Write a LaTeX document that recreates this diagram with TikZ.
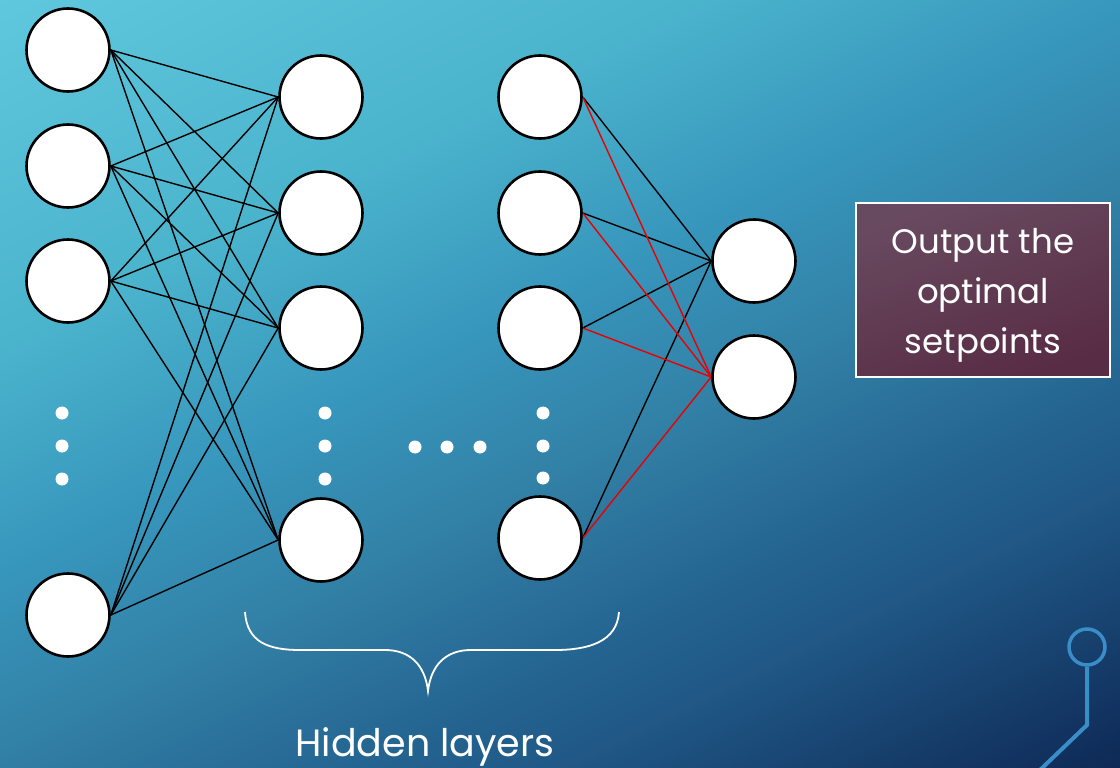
\documentclass[tikz,border=0pt]{standalone}
\usepackage{fontspec}
\setmainfont{Poppins}
\definecolor{bgA}{RGB}{95,200,222}
\definecolor{bgB}{RGB}{75,180,205}
\definecolor{bgC}{RGB}{55,150,188}
\definecolor{bgD}{RGB}{50,128,166}
\definecolor{bgE}{RGB}{36,100,145}
\definecolor{bgF}{RGB}{32,88,134}
\definecolor{bgG}{RGB}{14,40,85}
\definecolor{boxTop}{RGB}{104,74,96}
\definecolor{boxBot}{RGB}{88,44,68}
\definecolor{ornament}{RGB}{58,142,200}
\definecolor{linkRed}{RGB}{235,0,0}
% diagonal slide gradient, laid out along its own x axis
\pgfdeclarehorizontalshading{slidegrad}{1400bp}{%
  color(0bp)=(bgA); color(309bp)=(bgB); color(514bp)=(bgC); color(675bp)=(bgD);
  color(845bp)=(bgE); color(935bp)=(bgF); color(1188bp)=(bgG)}
\pgfdeclarelayer{slide}
\pgfdeclarelayer{wires}
\pgfsetlayers{slide,wires,main}
\begin{document}
\begin{tikzpicture}[x=1pt,y=-1pt,
  neuron/.style={circle, draw=black, line width=2.6pt, fill=white, minimum size=83pt, inner sep=0pt},
  ellipsis/.style={circle, fill=white, minimum size=13pt, inner sep=0pt},
  link/.style={draw=black, line width=1.4pt},
  redlink/.style={draw=linkRed, line width=1.4pt},
  label/.style={text=white, font=\fontsize{34}{50}\selectfont, align=center}]

\useasboundingbox (0,0) rectangle (1120,768);

% slide background
\begin{pgfonlayer}{slide}
  \clip (0,0) rectangle (1120,768);
  \node[inner sep=0pt, outer sep=0pt, rotate=-63.435] (bg) at (560,384) {\pgfuseshading{slidegrad}};
\end{pgfonlayer}

% input layer
\node[neuron] (i1) at (68,50) {};
\node[neuron] (i2) at (68,166) {};
\node[neuron] (i3) at (68,281) {};
\node[neuron] (i4) at (68,615) {};

% first hidden layer
\node[neuron] (a1) at (321,97) {};
\node[neuron] (a2) at (321,213) {};
\node[neuron] (a3) at (321,328) {};
\node[neuron] (a4) at (321,540) {};

% last hidden layer
\node[neuron] (b1) at (540,97) {};
\node[neuron] (b2) at (540,213) {};
\node[neuron] (b3) at (540,328) {};
\node[neuron] (b4) at (540,538) {};

% output layer
\node[neuron] (o1) at (754,261) {};
\node[neuron] (o2) at (754,377) {};

% weights, drawn beneath the neurons
\begin{pgfonlayer}{wires}
\foreach \s in {i1,i2,i3,i4}
  \foreach \t in {a1,a2,a3,a4}
    \draw[link] (\s.east) -- (\t.west);
\foreach \s in {b1,b2,b3,b4}
  \draw[link] (\s.east) -- (o1.west);
\foreach \s in {b1,b2,b3,b4}
  \draw[redlink] (\s.east) -- (o2.west);
\end{pgfonlayer}

% ellipses
\node[ellipsis] (di1) at (62,413) {};
\node[ellipsis] (di2) at (62,446) {};
\node[ellipsis] (di3) at (62,479) {};
\node[ellipsis] (da1) at (325,413) {};
\node[ellipsis] (da2) at (325,446) {};
\node[ellipsis] (da3) at (325,479) {};
\node[ellipsis] (dh1) at (415,447) {};
\node[ellipsis] (dh2) at (447,447) {};
\node[ellipsis] (dh3) at (480,447) {};
\node[ellipsis] (db1) at (543,413) {};
\node[ellipsis] (db2) at (543,446) {};
\node[ellipsis] (db3) at (543,478) {};

% brace under the hidden layers
\draw[white, line width=1.8pt]
  (245,612) .. controls (247,642) and (268,650) .. (300,650) -- (385,650)
  .. controls (410,650) and (425,665) .. (428,691)
  .. controls (431,665) and (446,650) .. (471,650) -- (555,650)
  .. controls (588,650) and (617,642) .. (619,612);
\node[label, font=\fontsize{38}{42}\selectfont] (hl) at (425,747) {Hidden layers};

% output caption box
\shade[top color=boxTop, bottom color=boxBot, shading angle=20]
  (856,203) rectangle (1110,377);
\draw[white, line width=1.5pt] (856,203) rectangle (1110,377);
\node[label] (out) at (983,295) {Output the\\optimal\\setpoints};

% corner ornament
\node[circle, draw=ornament, line width=3.5pt, minimum size=36pt, inner sep=0pt] (knob) at (1087,647) {};
\coordinate (bend) at (1087,725);
\coordinate (tail) at (1040,770);
\draw[ornament, line width=4pt] (knob.south) -- (bend) -- (tail);
\end{tikzpicture}
\end{document}
